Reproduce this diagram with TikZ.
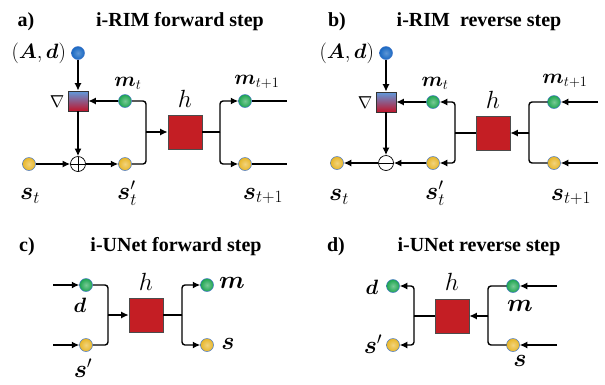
\documentclass[tikz,border=0pt]{standalone}
\usepackage{amsmath}
\usepackage{fontspec}
\setmainfont{Liberation Serif}
\usepackage{tikz}
\usetikzlibrary{arrows.meta, shapes}

\definecolor{dotgreen}{RGB}{30,165,80}
\definecolor{dotyellow}{RGB}{232,182,40}
\definecolor{dotblue}{RGB}{25,105,195}
\definecolor{boxred}{RGB}{196,30,36}
\definecolor{gradblue}{RGB}{95,155,222}
\definecolor{gradred}{RGB}{192,20,42}
\definecolor{rimblue}{RGB}{70,120,200}

\newcommand{\bs}[1]{\boldsymbol{#1}}

\begin{document}
\begin{tikzpicture}
[x=1pt, y=-1pt, > = {Latex[length=7.5pt, width=7pt]}, line width=1.4pt,
dot/.style ={circle, draw=rimblue, line width=0.5pt, inner sep=0pt,
minimum size=13pt},
gdot/.style ={dot, inner color=dotgreen!60!white, outer color=dotgreen},
ydot/.style ={dot, inner color=dotyellow!60!white, outer color=dotyellow},
bdot/.style ={dot, inner color=dotblue!70!white, outer color=dotblue},
hbox/.style ={rectangle, draw=black!70, line width=0.6pt, fill=boxred,
minimum size=34pt, inner sep=0pt},
gradbox/.style ={rectangle, draw=black!80, line width=0.6pt,
top color=gradblue, middle color=gradblue!70!gradred, bottom color=gradred,
minimum size=20pt, inner sep=0pt},
opcirc/.style ={circle, draw=black, line width=0.7pt, fill=white,
minimum size=15pt, inner sep=0pt},
plusop/.style ={opcirc, path picture={
\draw[line width=0.7pt] (path picture bounding box.north) -- (path picture bounding box.south)
(path picture bounding box.west) -- (path picture bounding box.east);}},
minusop/.style ={opcirc, path picture={
\draw[line width=0.7pt] (path picture bounding box.west) -- (path picture bounding box.east);}},
elbow/.style ={rounded corners=3pt},
ttl/.style ={font=\fontsize{20}{22}\selectfont\bfseries},
lbl/.style ={font=\fontsize{21}{24}\selectfont},
slbl/.style ={font=\fontsize{26}{28}\selectfont},
hlbl/.style ={font=\fontsize{24}{26}\selectfont},
nlbl/.style ={font=\fontsize{18}{20}\selectfont},
]
\useasboundingbox (0,0) rectangle (605,384);

% panel a
\node[ttl] (taga) at (26,22) {a)};
\node[ttl] (tita) at (180,22) {i-RIM forward step};
\node[bdot] (ada) at (78,53) {};
\node[gradbox] (gra) at (78,101) {};
\node[gdot] (mta) at (125,101) {};
\node[plusop] (opa) at (78,164) {};
\node[ydot] (sta) at (29,164) {};
\node[ydot] (spa) at (125,164) {};
\node[hbox] (ha) at (185,132) {};
\node[gdot] (mna) at (245,101) {};
\node[ydot] (sna) at (245,164) {};
\coordinate (ja) at (146,132);
\coordinate (ka) at (220,132);
\coordinate (ema) at (287,101);
\coordinate (esa) at (287,164);

\node[lbl, anchor=east] (lada) at (70,53) {$(\bs{A},\bs{d})$};
\node[nlbl] (lgra) at (57,102) {$\nabla$};
\node[lbl] (lmta) at (128,83) {$\bs{m}_t$};
\node[hlbl] (lha) at (185,99) {$h$};
\node[lbl] (lmna) at (257,82) {$\bs{m}_{t+1}$};
\node[slbl] (lsta) at (30,196) {$\bs{s}_t$};
\node[slbl] (lspa) at (127,193) {$\bs{s}^{\prime}_t$};
\node[slbl] (lsna) at (263,196) {$\bs{s}_{t+1}$};

\draw[->] (ada) -- (gra);
\draw[->] (mta) -- (gra);
\draw[->] (gra) -- (opa);
\draw[->] (sta) -- (opa);
\draw[->] (opa) -- (spa);
\draw[elbow] (mta) -| (ja);
\draw[elbow] (spa) -| (ja);
\draw[->] (ja) -- (ha);
\draw (ha) -- (ka);
\draw[->, elbow] (ka) |- (mna);
\draw[->, elbow] (ka) |- (sna);
\draw (mna) -- (ema);
\draw (sna) -- (esa);

% panel b
\node[ttl] (tagb) at (337,22) {b)};
\node[ttl] (titb) at (479,22) {i-RIM\ \ reverse step};
\node[bdot] (adb) at (386,53) {};
\node[gradbox] (grb) at (386,102) {};
\node[gdot] (mtb) at (433,102) {};
\node[minusop] (opb) at (386,163) {};
\node[ydot] (stb) at (337,163) {};
\node[ydot] (spb) at (433,163) {};
\node[hbox] (hb) at (493,133) {};
\node[gdot] (mnb) at (554,102) {};
\node[ydot] (snb) at (554,163) {};
\coordinate (jb) at (455,133);
\coordinate (kb) at (529,133);
\coordinate (emb) at (598,102);
\coordinate (esb) at (598,163);

\node[lbl, anchor=east] (ladb) at (378,53) {$(\bs{A},\bs{d})$};
\node[nlbl] (lgrb) at (365,103) {$\nabla$};
\node[lbl] (lmtb) at (435,83) {$\bs{m}_t$};
\node[hlbl] (lhb) at (493,100) {$h$};
\node[lbl] (lmnb) at (565,81) {$\bs{m}_{t+1}$};
\node[slbl] (lstb) at (339,197) {$\bs{s}_t$};
\node[slbl] (lspb) at (435,193) {$\bs{s}^{\prime}_t$};
\node[slbl] (lsnb) at (571,197) {$\bs{s}_{t+1}$};

\draw[->] (adb) -- (grb);
\draw[->] (mtb) -- (grb);
\draw[->] (grb) -- (opb);
\draw[->] (spb) -- (opb);
\draw[->] (opb) -- (stb);
\draw[->, elbow] (jb) |- (mtb);
\draw[->, elbow] (jb) |- (spb);
\draw (hb) -- (jb);
\draw[->] (kb) -- (hb);
\draw[elbow] (mnb) -| (kb);
\draw[elbow] (snb) -| (kb);
\draw[->] (emb) -- (mnb);
\draw[->] (esb) -- (snb);

% panel c
\node[ttl] (tagc) at (27,247) {c)};
\node[ttl] (titc) at (176,247) {i-UNet forward step};
\node[gdot] (dc) at (86,285) {};
\node[ydot] (spc) at (86,345) {};
\node[hbox] (hc) at (146,315) {};
\node[gdot] (mc) at (207,285) {};
\node[ydot] (sc) at (207,345) {};
\coordinate (jc) at (108,315);
\coordinate (kc) at (182,315);
\coordinate (edc) at (53,285);
\coordinate (esc) at (53,345);

\node[lbl] (ldc) at (80,305) {$\bs{d}$};
\node[slbl] (lspc) at (83,368) {$\bs{s}^{\prime}$};
\node[hlbl] (lhc) at (146,282) {$h$};
\node[slbl] (lmc) at (232,283) {$\bs{m}$};
\node[slbl] (lsc) at (228,344) {$\bs{s}$};

\draw[->] (edc) -- (dc);
\draw[->] (esc) -- (spc);
\draw[elbow] (dc) -| (jc);
\draw[elbow] (spc) -| (jc);
\draw[->] (jc) -- (hc);
\draw (hc) -- (kc);
\draw[->, elbow] (kc) |- (mc);
\draw[->, elbow] (kc) |- (sc);

% panel d
\node[ttl] (tagd) at (336,247) {d)};
\node[ttl] (titd) at (479,247) {i-UNet reverse step};
\node[gdot] (dd) at (393,286) {};
\node[ydot] (spd) at (393,345) {};
\node[hbox] (hd) at (452,316) {};
\node[gdot] (md) at (513,286) {};
\node[ydot] (sd) at (513,345) {};
\coordinate (jd) at (414,316);
\coordinate (kd) at (488,316);
\coordinate (emd) at (557,286);
\coordinate (esd) at (557,345);

\node[lbl] (ldd) at (372,287) {$\bs{d}$};
\node[slbl] (lspd) at (373,344) {$\bs{s}^{\prime}$};
\node[hlbl] (lhd) at (452,282) {$h$};
\node[slbl] (lmd) at (520,306) {$\bs{m}$};
\node[slbl] (lsd) at (520,361) {$\bs{s}$};

\draw[->, elbow] (jd) |- (dd);
\draw[->, elbow] (jd) |- (spd);
\draw (hd) -- (jd);
\draw[->] (kd) -- (hd);
\draw[elbow] (md) -| (kd);
\draw[elbow] (sd) -| (kd);
\draw[->] (emd) -- (md);
\draw[->] (esd) -- (sd);
\end{tikzpicture}
\end{document}
